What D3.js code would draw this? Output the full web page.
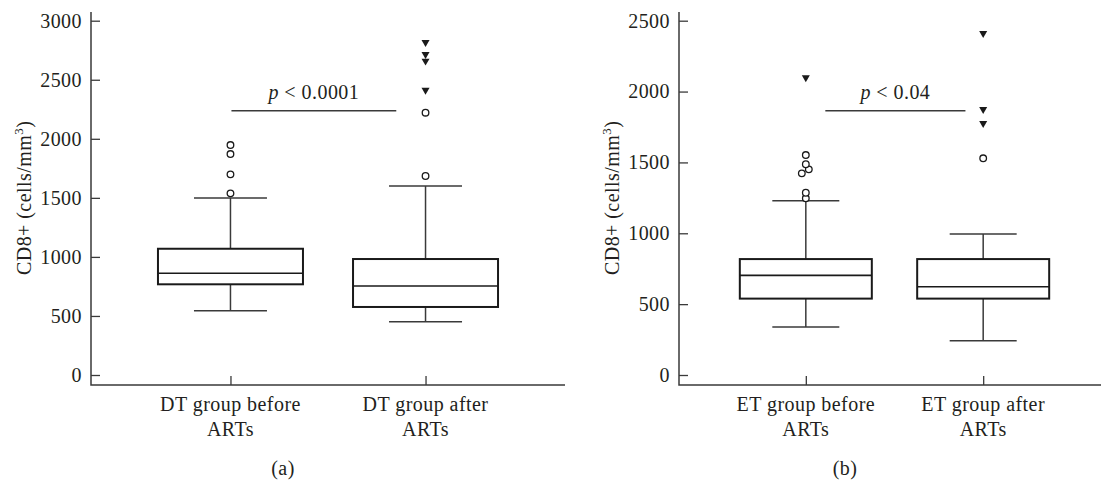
<!DOCTYPE html>
<html><head><meta charset="utf-8">
<script src="https://cdn.jsdelivr.net/npm/d3@7"></script>
<style>
body{margin:0;background:#fff;}
svg{display:block;}
svg text{font-family:"Liberation Serif","Times New Roman",serif;}
</style></head><body>
<svg id="chart" width="1101" height="481"></svg>
<script>
// ---------- data ----------
const dtCategories = [["DT group before", "ARTs"], ["DT group after", "ARTs"]];
const dtQ1 = [768, 576];
const dtMedian = [861, 754];
const dtQ3 = [1069, 982];
const dtWhiskerLow = [544, 451];
const dtWhiskerHigh = [1499, 1600];
const dtOutliers = [[1538, 1699, 1871, 1947], [1685, 2221]];
const dtExtremes = [[], [2413, 2659, 2716, 2817]];
const dtTicks = [0, 500, 1000, 1500, 2000, 2500, 3000];
const dtPText = "0.0001";

const etCategories = [["ET group before", "ARTs"], ["ET group after", "ARTs"]];
const etQ1 = [539, 539];
const etMedian = [703, 623];
const etQ3 = [818, 818];
const etWhiskerLow = [339, 242];
const etWhiskerHigh = [1230, 995];
const etOutliers = [[1247, 1286, 1423, 1451, 1487, 1552], [1529]];
const etExtremes = [[2098], [1776, 1875, 2411]];
const etTicks = [0, 500, 1000, 1500, 2000, 2500];
const etPText = "0.04";

const yLabel = "CD8+ (cells/mm";
const panelLetters = ["(a)", "(b)"];

// ---------- layout ----------
const svg = d3.select("#chart");
const textColor = "#231f20";
const lineColor = "#3a3a3a";
const FONT = "'Liberation Serif', 'Times New Roman', serif";
const FS = "20px";
const LS = "0.45px";

const panels = [
  {
    cats: dtCategories, q1: dtQ1, med: dtMedian, q3: dtQ3, lo: dtWhiskerLow, hi: dtWhiskerHigh,
    out: dtOutliers, ext: dtExtremes, ticks: dtTicks, pText: dtPText, letter: panelLetters[0],
    axisX: 91, axisRight: 565, yMax: 3000, boxW: 145, capW: 73,
    sigFrom: 0.005, sigTo: 0.85, sigValue: 2238, letterX: 283, dodge: {}
  },
  {
    cats: etCategories, q1: etQ1, med: etMedian, q3: etQ3, lo: etWhiskerLow, hi: etWhiskerHigh,
    out: etOutliers, ext: etExtremes, ticks: etTicks, pText: etPText, letter: panelLetters[1],
    axisX: 679, axisRight: 1110, yMax: 2500, boxW: 132, capW: 67,
    sigFrom: 0.11, sigTo: 0.9, sigValue: 1865, letterX: 845, dodge: {1423: -4, 1451: 3}
  }
];

const yTopPx = 12, yBottomPx = 385, zeroPx = 375, maxPx = 20.7;

function styleText(sel) {
  return sel.attr("fill", textColor).attr("font-family", FONT)
    .style("font-family", FONT).style("font-size", FS).style("letter-spacing", LS);
}

panels.forEach(p => {
  const g = svg.append("g");
  const y = d3.scaleLinear().domain([0, p.yMax]).range([zeroPx, maxPx]);
  const x = d3.scalePoint().domain(d3.range(p.cats.length)).range([p.axisX, p.axisRight]).padding(0.715);

  // y axis
  const ya = g.append("g").attr("transform", `translate(${p.axisX},0)`)
    .call(d3.axisLeft(y).tickValues(p.ticks).tickSizeInner(-9).tickSizeOuter(0).tickPadding(9).tickFormat(d3.format("d")));
  ya.attr("font-family", FONT).attr("font-size", 20);
  ya.select(".domain").remove();
  ya.selectAll(".tick line").attr("stroke", lineColor).attr("stroke-width", 1.3);
  styleText(ya.selectAll(".tick text"));

  // x axis ticks
  const xa = g.append("g").attr("transform", `translate(0,${yBottomPx})`)
    .call(d3.axisBottom(x).tickSizeInner(-9).tickSizeOuter(0).tickFormat(""));
  xa.select(".domain").remove();
  xa.selectAll(".tick line").attr("stroke", lineColor).attr("stroke-width", 1.3);

  // axis lines
  g.append("path")
    .attr("d", `M${p.axisX},${yTopPx}V${yBottomPx}H${p.axisRight}`)
    .attr("fill", "none").attr("stroke", lineColor).attr("stroke-width", 1.5);

  // category labels
  p.cats.forEach((lines, i) => {
    const t = styleText(g.append("text").attr("text-anchor", "middle"));
    lines.forEach((ln, j) => {
      t.append("tspan").attr("x", x(i)).attr("y", 411 + j * 25).text(ln);
    });
  });

  // y label
  const yl = styleText(g.append("text")
    .attr("transform", `translate(${p.axisX - 60},${(zeroPx + maxPx) / 2}) rotate(-90)`)
    .attr("text-anchor", "middle"));
  yl.append("tspan").text(yLabel);
  yl.append("tspan").attr("dy", -8).style("font-size", "13px").text("3");
  yl.append("tspan").attr("dy", 8).text(")");

  // boxes
  p.cats.forEach((_, i) => {
    const cx = x(i);
    g.append("line").attr("x1", cx).attr("x2", cx).attr("y1", y(p.q3[i])).attr("y2", y(p.hi[i]))
      .attr("stroke", lineColor).attr("stroke-width", 1.5);
    g.append("line").attr("x1", cx).attr("x2", cx).attr("y1", y(p.q1[i])).attr("y2", y(p.lo[i]))
      .attr("stroke", lineColor).attr("stroke-width", 1.5);
    [p.hi[i], p.lo[i]].forEach(v => {
      g.append("line").attr("x1", cx - p.capW / 2).attr("x2", cx + p.capW / 2)
        .attr("y1", y(v)).attr("y2", y(v)).attr("stroke", lineColor).attr("stroke-width", 1.5);
    });
    g.append("rect").attr("x", cx - p.boxW / 2).attr("width", p.boxW)
      .attr("y", y(p.q3[i])).attr("height", y(p.q1[i]) - y(p.q3[i]))
      .attr("fill", "#fff").attr("stroke", "#1a1a1a").attr("stroke-width", 2);
    g.append("line").attr("x1", cx - p.boxW / 2).attr("x2", cx + p.boxW / 2)
      .attr("y1", y(p.med[i])).attr("y2", y(p.med[i]))
      .attr("stroke", "#1a1a1a").attr("stroke-width", 1.6);
    g.selectAll(null).data(p.out[i]).enter().append("circle")
      .attr("cx", d => cx + (p.dodge[d] || 0)).attr("cy", d => y(d)).attr("r", 3.3)
      .attr("fill", "#fff").attr("stroke", "#1a1a1a").attr("stroke-width", 1.3);
    g.selectAll(null).data(p.ext[i]).enter().append("path")
      .attr("d", d3.symbol().type(d3.symbolTriangle).size(28))
      .attr("transform", d => `translate(${cx},${y(d)}) rotate(180)`)
      .attr("fill", "#1a1a1a");
  });

  // significance bracket
  const sx1 = x(0) + (x(1) - x(0)) * p.sigFrom;
  const sx2 = x(0) + (x(1) - x(0)) * p.sigTo;
  const sy = y(p.sigValue);
  g.append("line").attr("x1", sx1).attr("x2", sx2).attr("y1", sy).attr("y2", sy)
    .attr("stroke", lineColor).attr("stroke-width", 1.5);
  const st = styleText(g.append("text").attr("x", (sx1 + sx2) / 2).attr("y", sy - 12)
    .attr("text-anchor", "middle"));
  st.append("tspan").style("font-style", "italic").text("p");
  st.append("tspan").text(" < " + p.pText);

  // panel letter
  styleText(g.append("text").attr("x", p.letterX).attr("y", 475).attr("text-anchor", "middle"))
    .text(p.letter);
});
</script>
</body></html>
